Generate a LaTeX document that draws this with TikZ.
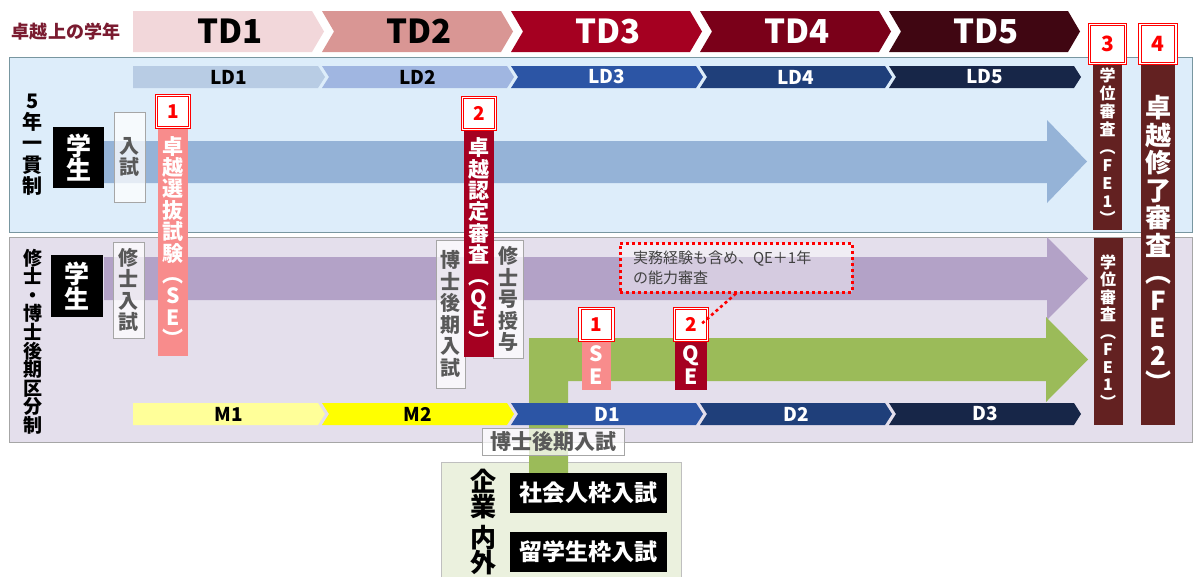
\documentclass[tikz,border=0pt]{standalone}
\usepackage{fontspec}
\setmainfont{Noto Sans CJK JP}
\usetikzlibrary{positioning}
\definecolor{td1}{RGB}{242,215,218}
\definecolor{td2}{RGB}{217,150,148}
\definecolor{td3}{RGB}{165,0,33}
\definecolor{td4}{RGB}{122,0,25}
\definecolor{td5}{RGB}{64,6,18}
\definecolor{ld1}{RGB}{184,204,228}
\definecolor{ld2}{RGB}{160,182,225}
\definecolor{ld3}{RGB}{44,85,165}
\definecolor{ld4}{RGB}{31,63,122}
\definecolor{ld5}{RGB}{23,38,72}
\definecolor{m1}{RGB}{255,255,153}
\definecolor{m2}{RGB}{255,255,0}
\definecolor{panelblue}{RGB}{221,237,250}
\definecolor{panellav}{RGB}{228,223,236}
\definecolor{panelline}{RGB}{120,150,160}
\definecolor{arrowblue}{RGB}{149,179,215}
\definecolor{arrowlav}{RGB}{179,162,199}
\definecolor{arrowgreen}{RGB}{155,187,89}
\definecolor{sepink}{RGB}{248,140,140}
\definecolor{qered}{RGB}{165,0,33}
\definecolor{febrown}{RGB}{99,33,33}
\definecolor{numred}{RGB}{255,0,0}
\definecolor{txtgray}{RGB}{89,89,89}
\definecolor{boxgreen}{RGB}{235,241,222}
\definecolor{titlered}{RGB}{122,27,48}
\tikzset{
  vlab/.style={align=center, inner sep=0pt},
  bar/.style={vlab, text=white, font=\bfseries\fontsize{21}{21.4}\selectfont},
  numbox/.style={draw=numred, double=white, double distance=1.6pt, line width=1pt, fill=white, inner sep=0pt, minimum width=33pt, minimum height=32pt, text=numred, font=\bfseries\fontsize{19}{19}\selectfont},
  exam/.style={vlab, draw=black!35, fill=white, fill opacity=.75, text opacity=1, text=txtgray, font=\bfseries\fontsize{20}{21.5}\selectfont},
  student/.style={vlab, fill=black, text=white, font=\bfseries\fontsize{25}{23.5}\selectfont},
  callout/.style={draw=numred, line width=3pt, dash pattern=on 3pt off 3pt},
}
\begin{document}
\begin{tikzpicture}[x=1pt, y=-1pt]
\useasboundingbox (0,0) rectangle (1193,576);
\draw[draw=panelline, fill=panelblue] (9,57) rectangle (1192,232);
\draw[draw=black!35, fill=panellav] (9,237) rectangle (1192,442);
\draw[draw=black!25, fill=boxgreen] (441,462) rectangle (681,590);
\node[font=\bfseries\fontsize{18}{18}\selectfont, text=titlered] (title) at (66,32) {卓越上の学年};
\foreach \lab/\col/\tcol [count=\i from 0] in {TD1/td1/black,TD2/td2/black,TD3/td3/white,TD4/td4/white,TD5/td5/white}{
  \pgfmathsetmacro{\xl}{133+189*\i}
  \pgfmathsetmacro{\nd}{\i==0 ? 0 : 12}
  \fill[\col] (\xl,11) -- (\xl+179,11) -- (\xl+191,31.5) -- (\xl+179,52) -- (\xl,52) -- (\xl+\nd,31.5) -- cycle;
  \node[font=\bfseries\fontsize{33}{33}\selectfont, text=\tcol] (td\i) at (\xl+97,31.5) {\lab};
}
\fill[arrowblue] (104,141) -- (1047,141) -- (1047,120) -- (1087,161.5) -- (1047,203) -- (1047,183) -- (104,183) -- cycle;
\fill[arrowlav] (104,257) -- (1047,257) -- (1047,237) -- (1088,278.5) -- (1047,320) -- (1047,300) -- (104,300) -- cycle;
\fill[arrowgreen] (529,473) -- (529,338) -- (1046,338) -- (1046,317) -- (1088,359.5) -- (1046,402) -- (1046,381) -- (568,381) -- (568,473) -- cycle;
\foreach \lab/\col/\tcol [count=\i from 0] in {LD1/ld1/black,LD2/ld2/black,LD3/ld3/white,LD4/ld4/white,LD5/ld5/white}{
  \pgfmathsetmacro{\xl}{133+189*\i}
  \pgfmathsetmacro{\nd}{\i==0 ? 0 : 7}
  \fill[\col] (\xl,66) -- (\xl+185,66) -- (\xl+192,77) -- (\xl+185,88) -- (\xl,88) -- (\xl+\nd,77) -- cycle;
  \node[font=\bfseries\fontsize{19}{19}\selectfont, text=\tcol] (ld\i) at (\xl+96,77) {\lab};
}
\foreach \lab/\col/\tcol [count=\i from 0] in {M1/m1/black,M2/m2/black,D1/ld3/white,D2/ld4/white,D3/ld5/white}{
  \pgfmathsetmacro{\xl}{133+189*\i}
  \pgfmathsetmacro{\nd}{\i==0 ? 0 : 7}
  \fill[\col] (\xl,403) -- (\xl+185,403) -- (\xl+192,414) -- (\xl+185,425) -- (\xl,425) -- (\xl+\nd,414) -- cycle;
  \node[font=\bfseries\fontsize{19}{19}\selectfont, text=\tcol] (md\i) at (\xl+96,414) {\lab};
}
\node[vlab, font=\bfseries\fontsize{20}{21.3}\selectfont] (lab5) at (33,144.5) {5\\年\\一\\貫\\制};
\node[vlab, font=\bfseries\fontsize{19}{18.6}\selectfont] (labms) at (33,341.5) {修\\士\\・\\博\\士\\後\\期\\区\\分\\制};
\node[student, minimum width=51pt, minimum height=61pt] (stu5) at (78.5,157.5) {学\\生};
\node[student, minimum width=52pt, minimum height=62pt] (stums) at (77,286) {学\\生};
\node[exam, minimum width=31pt, minimum height=90pt] (ent5) at (129.5,157) {入\\試};
\node[exam, minimum width=31pt, minimum height=96pt] (entms) at (128.5,290) {修\\士\\入\\試};
\node[exam, minimum width=29pt, minimum height=148pt] (entdc) at (450.5,314) {博\\士\\後\\期\\入\\試};
\node[exam, minimum width=30pt, minimum height=118pt] (mdeg) at (508,299) {修\\士\\号\\授\\与};
\node[exam, minimum width=142pt, minimum height=27pt, font=\bfseries\fontsize{21}{21}\selectfont] (entdc2) at (553,441.5) {博士後期入試};
\node[bar, fill=sepink, minimum width=30pt, minimum height=229pt] (se) at (173,241.5) {卓\\越\\選\\抜\\試\\験\\︵\\S\\E\\︶};
\node[numbox, above=-1pt of se] (senum) {1};
\node[bar, fill=qered, minimum width=30pt, minimum height=228pt] (qe) at (479,243) {卓\\越\\認\\定\\審\\査\\︵\\Q\\E\\︶};
\node[numbox, above=-1pt of qe] (qenum) {2};
\node[bar, fill=sepink, minimum width=29pt, minimum height=50pt, font=\bfseries\fontsize{21}{23}\selectfont] (sesm) at (596.5,365) {S\\E};
\node[numbox, above=-1pt of sesm] (sesmnum) {1};
\node[bar, fill=qered, minimum width=32pt, minimum height=50pt, font=\bfseries\fontsize{21}{23}\selectfont] (qesm) at (691,365) {Q\\E};
\node[numbox, above=-1pt of qesm] (qesmnum) {2};
\node[bar, fill=febrown, minimum width=29pt, minimum height=167pt, font=\bfseries\fontsize{16}{17.9}\selectfont] (fe1a) at (1107.5,146.5) {学\\位\\審\\査\\︵\\F\\E\\1\\︶};
\node[numbox, minimum width=36pt, minimum height=39pt, font=\bfseries\fontsize{21}{21}\selectfont, above=-1pt of fe1a] (fe1num) {3};
\node[bar, fill=febrown, minimum width=29pt, minimum height=187pt, font=\bfseries\fontsize{16}{17.5}\selectfont] (fe1b) at (1108,331.5) {学\\位\\審\\査\\︵\\F\\E\\1\\︶};
\node[bar, fill=febrown, minimum width=34pt, minimum height=362pt, font=\bfseries\fontsize{26}{27.5}\selectfont] (fe2) at (1158,244) {卓\\越\\修\\了\\審\\査\\︵\\F\\E\\2\\︶};
\node[numbox, minimum width=36pt, minimum height=39pt, font=\bfseries\fontsize{21}{21}\selectfont, above=-1pt of fe2] (fe2num) {4};
\node[callout, fill=white, fill opacity=.45, text opacity=1, text=black!75, minimum width=232pt, minimum height=49pt, align=left, text width=206pt, inner sep=0pt, font=\fontsize{15}{20}\selectfont] (note) at (736,267.5) {実務経験も含め、QE＋1年\\の能力審査};
\draw[callout, line width=2.6pt] (note.south) -- ([xshift=-7pt]qesmnum.east);
\node[vlab, font=\bfseries\fontsize{26}{23}\selectfont] (corp) at (483,494) {企\\業};
\node[vlab, font=\bfseries\fontsize{26}{22}\selectfont] (inout) at (483,550) {内\\外};
\node[fill=black, text=white, minimum width=157pt, minimum height=40pt, inner sep=0pt, font=\bfseries\fontsize{23}{23}\selectfont] (adult) at (588.5,493) {社会人枠入試};
\node[fill=black, text=white, minimum width=157pt, minimum height=40pt, inner sep=0pt, font=\bfseries\fontsize{23}{23}\selectfont] (intl) at (588.5,552) {留学生枠入試};
\end{tikzpicture}
\end{document}
